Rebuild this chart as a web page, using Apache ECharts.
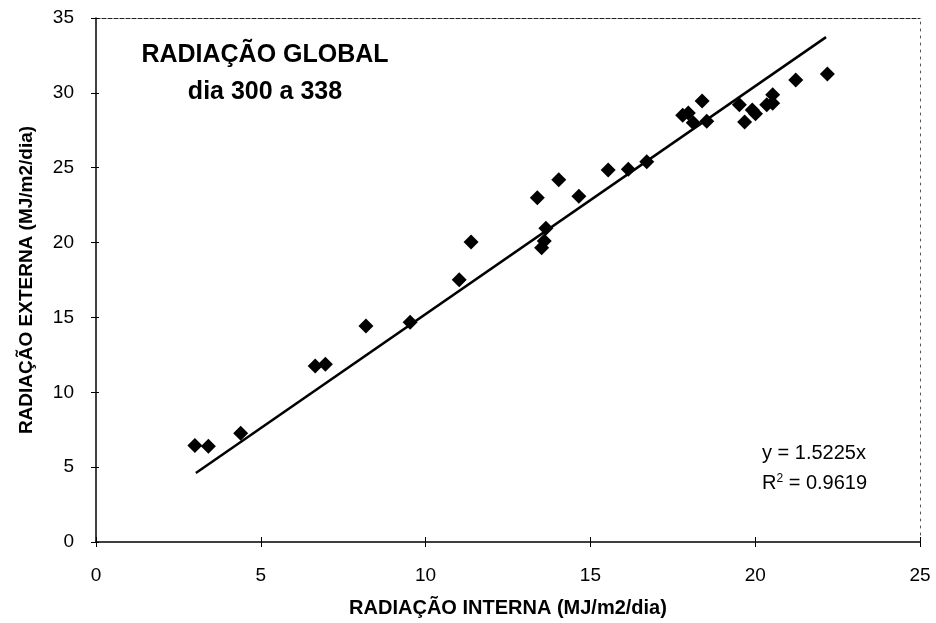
<!DOCTYPE html>
<html>
<head>
<meta charset="utf-8">
<script src="https://cdn.jsdelivr.net/npm/echarts@6/dist/echarts.min.js"></script>
<style>html,body{margin:0;padding:0;background:#fff}#c{width:936px;height:623px}</style>
</head>
<body>
<div id="c"></div>
<script>
// Data
var interna = [3.00,3.41,4.39,6.65,6.96,8.19,9.53,11.02,11.38,13.39,13.52,13.60,13.65,14.04,14.65,15.54,16.15,16.71,17.80,17.97,18.12,18.39,18.53,19.52,19.68,19.91,20.01,20.35,20.53,20.53,21.23,22.19];
var externa = [6.44,6.40,7.26,11.76,11.87,14.42,14.68,17.52,20.03,23.00,19.65,20.10,20.96,24.20,23.10,24.85,24.90,25.40,28.50,28.65,28.00,29.45,28.10,29.20,28.05,28.85,28.60,29.20,29.87,29.30,30.86,31.26];
var trendSlope = 1.5225;
var trendX = [3.03, 22.15];
var xTicks = [0,5,10,15,20,25];
var yTicks = [0,5,10,15,20,25,30,35];
var titleLines = ['RADIAÇÃO GLOBAL','dia 300 a 338'];
var eqText = ['y = 1.5225x','R² = 0.9619'];

var points = interna.map(function(v,i){return [v, externa[i]];});
var trend = trendX.map(function(v){return [v, trendSlope*v];});
var FONT = '"Liberation Sans", Arial, sans-serif';

var chart = echarts.init(document.getElementById('c'), null, {renderer:'canvas'});
var baseX = {type:'value', min:xTicks[0], max:xTicks[xTicks.length-1], interval:5, splitLine:{show:false}};
var baseY = {type:'value', min:yTicks[0], max:yTicks[yTicks.length-1], interval:5, splitLine:{show:false}};
chart.setOption({
  animation:false,
  backgroundColor:'#fff',
  grid:{left:96, right:16, top:18, bottom:79.5, containLabel:false},
  xAxis:[
    Object.assign({}, baseX, {
      position:'bottom',
      name:'RADIAÇÃO INTERNA (MJ/m2/dia)', nameLocation:'middle', nameGap:56,
      nameTextStyle:{fontFamily:FONT, fontWeight:'bold', fontSize:20, color:'#000'},
      axisLine:{show:true, onZero:false, lineStyle:{color:'#000', width:1.5}},
      axisTick:{show:true, inside:false, length:5, lineStyle:{color:'#000', width:1}},
      axisLabel:{fontFamily:FONT, fontSize:19, color:'#000', margin:24}
    }),
    Object.assign({}, baseX, {
      position:'top',
      axisLine:{show:true, onZero:false, lineStyle:{color:'#222', width:1.2, type:[4,2]}},
      axisTick:{show:false}, axisLabel:{show:false}
    }),
    Object.assign({}, baseX, {
      position:'bottom', offset:0,
      axisLine:{show:false, onZero:false},
      axisTick:{show:true, inside:true, length:5, lineStyle:{color:'#000', width:1}},
      axisLabel:{show:false}
    })
  ],
  yAxis:[
    Object.assign({}, baseY, {
      position:'left',
      name:'RADIAÇÃO EXTERNA (MJ/m2/dia)', nameLocation:'middle', nameGap:60,
      nameTextStyle:{fontFamily:FONT, fontWeight:'bold', fontSize:19, color:'#000'},
      axisLine:{show:true, onZero:false, lineStyle:{color:'#000', width:1.5}},
      axisTick:{show:true, inside:false, length:5, lineStyle:{color:'#000', width:1}},
      axisLabel:{fontFamily:FONT, fontSize:19, color:'#000', margin:22}
    }),
    Object.assign({}, baseY, {
      position:'right',
      axisLine:{show:true, onZero:false, lineStyle:{color:'#555', width:1, type:[2,5]}},
      axisTick:{show:false}, axisLabel:{show:false}
    }),
    Object.assign({}, baseY, {
      position:'left', offset:0,
      axisLine:{show:false, onZero:false},
      axisTick:{show:true, inside:true, length:3, lineStyle:{color:'#000', width:1}},
      axisLabel:{show:false}
    })
  ],
  series:[
    {type:'line', data:trend, xAxisIndex:0, yAxisIndex:0, symbol:'none',
     lineStyle:{color:'#000', width:2.5}, z:2},
    {type:'scatter', data:points, xAxisIndex:0, yAxisIndex:0, symbol:'diamond', symbolSize:15,
     itemStyle:{color:'#000', opacity:1}, z:3}
  ],
  graphic:[
    {type:'text', x:265, y:55, style:{text:titleLines[0], font:'bold 25px '+FONT, fill:'#000', textAlign:'center', textVerticalAlign:'middle'}},
    {type:'text', x:265, y:92, style:{text:titleLines[1], font:'bold 25px '+FONT, fill:'#000', textAlign:'center', textVerticalAlign:'middle'}},
    {type:'text', x:762, y:453, style:{text:eqText[0], font:'20px '+FONT, fill:'#000', textAlign:'left', textVerticalAlign:'middle'}},
    {type:'text', x:762, y:483, style:{
      rich:{n:{fontFamily:FONT, fontSize:20, fill:'#000'}, s:{fontFamily:FONT, fontSize:12, fill:'#000', verticalAlign:'top', padding:[0,0,9,0]}},
      text:'{n|R}{s|2}{n|' + eqText[1].slice(2) + '}', textAlign:'left', textVerticalAlign:'middle'}}
  ]
});
</script>
</body>
</html>
